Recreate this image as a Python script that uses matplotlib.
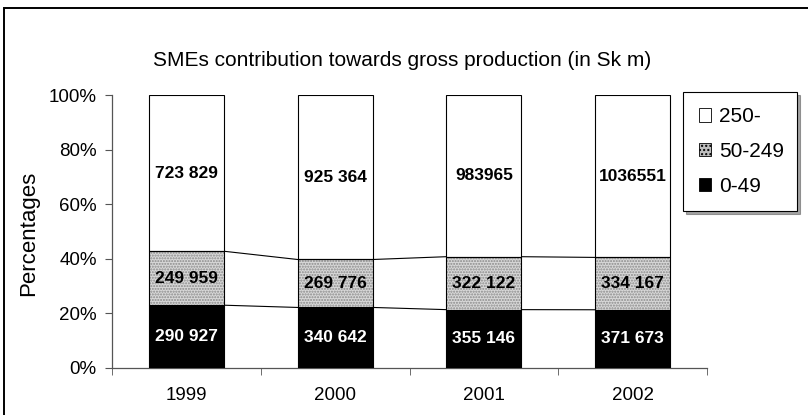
import matplotlib
matplotlib.use("Agg")
import matplotlib.pyplot as plt
from matplotlib.patches import Rectangle, Patch
import numpy as np

plt.rcParams["font.family"] = ["Liberation Sans", "DejaVu Sans"]

years = ["1999", "2000", "2001", "2002"]
small = [290927, 340642, 355146, 371673]      # 0-49
medium = [249959, 269776, 322122, 334167]     # 50-249
large = [723829, 925364, 983965, 1036551]     # 250-
small_lbl = ["290 927", "340 642", "355 146", "371 673"]
medium_lbl = ["249 959", "269 776", "322 122", "334 167"]
large_lbl = ["723 829", "925 364", "983965", "1036551"]

tot = np.array(small) + np.array(medium) + np.array(large)
p_s = np.array(small) / tot * 100
p_m = np.array(medium) / tot * 100
p_l = np.array(large) / tot * 100

fig = plt.figure(figsize=(8.08, 4.15), dpi=100)
ax = fig.add_axes([112/808, 1-368/415, (707-112)/808, (368-95)/415])

x = np.arange(len(years))
bw = 0.505
ax.bar(x, p_s, bw, color="black", edgecolor="black", lw=0.8, zorder=3)
# dotted grey middle: hatch layer then outline
ax.bar(x, p_m, bw, bottom=p_s, color="#d8d8d8", edgecolor="#8a8a8a", lw=0, hatch="......", zorder=3)
ax.bar(x, p_m, bw, bottom=p_s, fill=False, edgecolor="black", lw=0.8, zorder=4)
ax.bar(x, p_l, bw, bottom=p_s+p_m, color="white", edgecolor="black", lw=0.8, zorder=3)

# series lines between bars
for lvl in (p_s, p_s+p_m):
    for i in range(len(x)-1):
        ax.plot([x[i]+bw/2, x[i+1]-bw/2], [lvl[i], lvl[i+1]], color="black", lw=0.8, zorder=2)

for i in range(len(x)):
    ax.text(x[i], p_s[i]/2, small_lbl[i], color="white", fontsize=12.5, fontweight="bold",
            ha="center", va="center", zorder=5)
    ax.text(x[i], p_s[i]+p_m[i]/2, medium_lbl[i], color="black", fontsize=12.5, fontweight="bold",
            ha="center", va="center", zorder=5)
    ax.text(x[i], p_s[i]+p_m[i]+p_l[i]/2, large_lbl[i], color="black", fontsize=12.5, fontweight="bold",
            ha="center", va="center", zorder=5)

ax.set_xlim(-0.5, 3.5)
ax.set_ylim(0, 100)
ax.set_yticks(np.arange(0, 101, 20))
ax.set_yticklabels([f"{v}%" for v in range(0, 101, 20)])
ax.set_xticks(x)
ax.set_xticklabels(years)
ax.set_xticks(np.arange(-0.5, 3.6, 1), minor=True)
ax.tick_params(axis="x", which="major", length=0, pad=14, labelsize=13.5)
ax.tick_params(axis="x", which="minor", length=5, direction="out", color="#555555")
ax.tick_params(axis="y", length=5, direction="out", labelsize=13.5, pad=6, color="#555555")
for s in ("top", "right"):
    ax.spines[s].set_visible(False)
for s in ("left", "bottom"):
    ax.spines[s].set_color("#555555")
    ax.spines[s].set_linewidth(0.9)
fig.text(29/808, 1-233/415, "Percentages", rotation=90, ha="center", va="center", fontsize=16)

fig.text(402/808, 1-60/415, "SMEs contribution towards gross production (in Sk m)",
         ha="center", va="center", fontsize=15)

handles = [Patch(facecolor="white", edgecolor="black", lw=0.6),
           Patch(facecolor="#bdbdbd", edgecolor="black", lw=0.6, hatch="...."),
           Patch(facecolor="black", edgecolor="black", lw=0.6)]
leg = fig.legend(handles, ["250-", "50-249", "0-49"], loc="center",
                 bbox_to_anchor=(683/808, 1-208/415, 114/808, 113/415), mode="expand",
                 fontsize=15, frameon=True, fancybox=False, shadow=True,
                 handlelength=0.6, handleheight=0.6, handletextpad=0.4,
                 labelspacing=0.75, borderpad=0.75, borderaxespad=0)
leg.get_frame().set_edgecolor("black")
leg.get_frame().set_linewidth(0.8)

# outer chart border
fig.patches.append(Rectangle((4/808, -0.1), 1.2, 1-8/415+0.1, transform=fig.transFigure,
                             fill=False, edgecolor="black", lw=1.4))

fig.savefig("out.png", dpi=100)
